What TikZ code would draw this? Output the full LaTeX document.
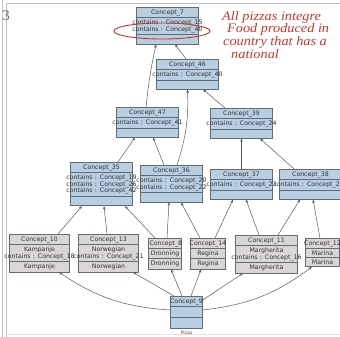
\documentclass[tikz,border=0pt]{standalone}
\usepackage{fontspec}
\usepackage{graphicx}
\usetikzlibrary{shapes.multipart,arrows.meta}
\newfontfamily\dvsans{DejaVu Sans}
\newfontfamily\hand{Liberation Serif}
\definecolor{conceptblue}{RGB}{184,206,225}
\definecolor{conceptgray}{RGB}{218,214,214}
\definecolor{boxline}{RGB}{96,108,120}
\definecolor{pen}{RGB}{206,54,42}
\newcommand{\wide}[1]{\makebox[\linewidth][c]{#1}}
\newcommand{\blank}[1][5pt]{\rule{0pt}{#1}}
\newcommand{\scrawl}[1]{\scalebox{1.1}[1]{#1}}

\begin{document}
\begin{tikzpicture}[x=1pt, y=-1pt,
    concept/.style={rectangle split, rectangle split parts=3, draw=boxline, fill=conceptblue,
      line width=0.6pt, font=\dvsans\fontsize{6.2}{6.8}\selectfont, text=black!80,
      text width=#1, align=center, inner xsep=1pt, inner ysep=1.8pt, anchor=north},
    concept/.default=60pt,
    leaf/.style={concept=#1, fill=conceptgray},
    leaf/.default=58pt,
    link/.style={draw=black!65, line width=0.5pt, -{Stealth[length=3.5pt,width=2.6pt]}},
    note/.style={text=pen, font=\hand\itshape\fontsize{13}{12.7}\selectfont, align=left,
      inner sep=0pt, anchor=north west}]
  \useasboundingbox (0,0) rectangle (340,337);
  \fill[white] (0,0) rectangle (340,337);
  \draw[black!25, line width=0.6pt] (2.5,0) -- (2.5,337);
  \draw[black!25, line width=0.6pt] (6,337) -- (6,3.5) -- (340,3.5);
  \draw[black!12, line width=0.5pt] (6,334) -- (340,334);
  \node[text=black!55, font=\hand\fontsize{15}{15}\selectfont, inner sep=0pt] (pagemark) at (6,16) {3};

  \node[concept] (c7) at (167.5,7) {Concept\_7
    \nodepart{two} \wide{contains : Concept\_15}\\\wide{contains : Concept\_40}
    \nodepart{three} \blank};
  \node[concept] (c46) at (187.5,59) {Concept\_46
    \nodepart{two} \wide{contains : Concept\_40}
    \nodepart{three} \blank};
  \node[concept] (c47) at (147.5,107) {Concept\_47
    \nodepart{two} \wide{contains : Concept\_41}
    \nodepart{three} \blank};
  \node[concept] (c39) at (241.5,108) {Concept\_39
    \nodepart{two} \wide{contains : Concept\_24}
    \nodepart{three} \blank};
  \node[concept] (c35) at (101.5,162) {Concept\_35
    \nodepart{two} \wide{contains : Concept\_19}\\\wide{contains : Concept\_26}\\\wide{contains : Concept\_42}
    \nodepart{three} \blank};
  \node[concept] (c36) at (171.5,165) {Concept\_36
    \nodepart{two} \wide{contains : Concept\_20}\\\wide{contains : Concept\_22}
    \nodepart{three} \blank};
  \node[concept] (c37) at (241.5,169) {Concept\_37
    \nodepart{two} \wide{contains : Concept\_23}
    \nodepart{three} \blank};
  \node[concept] (c38) at (310.5,169) {Concept\_38
    \nodepart{two} \makebox[\linewidth][l]{\hspace*{-7pt}contains : Concept\_2}
    \nodepart{three} \blank};

  \node[leaf] (c10) at (39.5,234) {Concept\_10
    \nodepart{two} Kampanje\\\wide{contains : Concept\_18}
    \nodepart{three} Kampanje};
  \node[leaf] (c13) at (108.5,234) {Concept\_13
    \nodepart{two} Norwegian\\\wide{contains : Concept\_21}
    \nodepart{three} Norwegian};
  \node[leaf=31pt] (c8) at (165,238) {Concept\_8
    \nodepart{two} Dronning
    \nodepart{three} Dronning};
  \node[leaf=33pt] (c14) at (208,238) {\wide{Concept\_14}
    \nodepart{two} Regina
    \nodepart{three} Regina};
  \node[leaf=60pt] (c11) at (266.5,235) {Concept\_11
    \nodepart{two} Margherita\\\wide{contains : Concept\_16}
    \nodepart{three} Margherita};
  \node[leaf=32pt] (c12) at (322.5,238) {\wide{Concept\_12}
    \nodepart{two} Marina
    \nodepart{three} Marina};
  \node[concept=30pt] (c9) at (186.5,296) {\wide{Concept\_9}
    \nodepart{two} \blank[6.5pt]
    \nodepart{three} \blank[6.5pt]};
  \node[font=\dvsans\fontsize{4.5}{5}\selectfont, text=black!70, inner sep=0pt] (pizza) at (186.5,333) {Pizza};

  \draw[link] ([xshift=-1.5pt]c46.north) -- ([xshift=7.5pt]c7.south);
  \draw[link] ([xshift=-1.5pt]c47.north) to[bend left=3] ([xshift=-11.5pt]c7.south);
  \draw[link] ([xshift=5.5pt]c36.north) to[bend right=10] (c46.south);
  \draw[link] ([xshift=-16.5pt]c39.north) -- ([xshift=15.5pt]c46.south);
  \draw[link] ([xshift=16.5pt]c35.north) -- ([xshift=-12.5pt]c47.south);
  \draw[link] ([xshift=-7.5pt]c36.north) -- ([xshift=5.5pt]c47.south);
  \draw[link] (c37.north) -- (c39.south);
  \draw[link] ([xshift=-16.5pt]c38.north) -- ([xshift=18.5pt]c39.south);
  \draw[link] ([xshift=18.5pt]c10.north) -- ([xshift=-19.5pt]c35.south);
  \draw[link] ([xshift=-1.5pt]c13.north) -- ([xshift=2.5pt]c35.south);
  \draw[link] ([xshift=-10pt]c8.north) -- ([xshift=23.5pt]c35.south);
  \draw[link] ([xshift=2pt]c8.north) -- ([xshift=-2.5pt]c36.south);
  \draw[link] ([xshift=-8pt]c14.north) -- ([xshift=9.5pt]c36.south);
  \draw[link] ([xshift=7pt]c14.north) -- ([xshift=-8.5pt]c37.south);
  \draw[link] ([xshift=-7.5pt]c11.north) -- ([xshift=4.5pt]c37.south);
  \draw[link] ([xshift=11.5pt]c11.north) -- ([xshift=-10.5pt]c38.south);
  \draw[link] ([xshift=-2.5pt]c12.north) -- ([xshift=2.5pt]c38.south);
  \draw[link] ([yshift=-14pt]c9.north west) to[bend left=15] ([xshift=19.5pt]c10.south);
  \draw[link] ([xshift=-12.5pt]c9.north) -- ([xshift=24.5pt]c13.south);
  \draw[link] ([xshift=-4.5pt]c9.north) -- ([xshift=6pt]c8.south);
  \draw[link] ([xshift=4.5pt]c9.north) -- ([xshift=-7pt]c14.south);
  \draw[link] ([yshift=-4pt]c9.north east) -- ([xshift=-23.5pt]c11.south);
  \draw[link] ([yshift=-14pt]c9.north east) to[bend right=15] ([xshift=-10.5pt]c12.south);

  \draw[pen, line width=0.9pt] (162,31) ellipse [x radius=48pt, y radius=8pt];
  \node[note] (remark) at (222,11) {\scrawl{All pizzas integre}\\
    \hspace*{5pt}\scrawl{Food produced in}\\
    \hspace*{1pt}\scrawl{country that has a}\\
    \hspace*{9pt}\scrawl{national}};
\end{tikzpicture}
\end{document}
